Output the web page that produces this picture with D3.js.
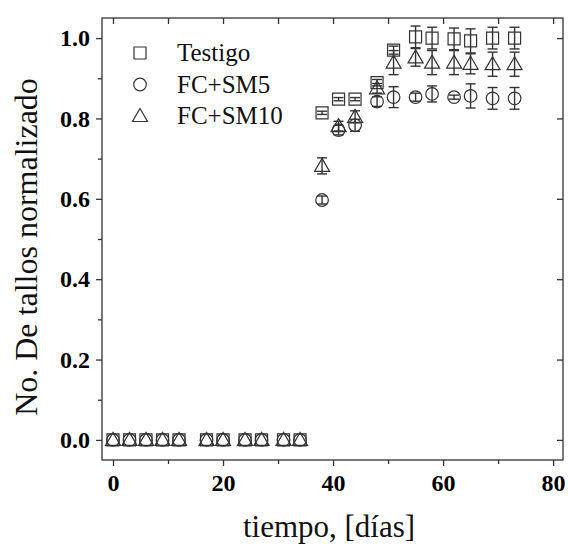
<!DOCTYPE html>
<html><head><meta charset="utf-8">
<script src="https://cdn.jsdelivr.net/npm/d3@7"></script>
<style>body{margin:0;background:#fff}svg{display:block}</style>
</head><body>
<svg id="c" width="568" height="544"></svg>
<script>
const days = [0,3,6,9,12,17,20,24,27,31,34,38,41,44,48,51,55,58,62,65,69,73];
const zeros = [0,0,0,0,0,0,0,0,0,0,0];
const testigo = zeros.concat([0.814,0.848,0.848,0.889,0.970,1.003,1.000,0.998,0.993,1.000,1.000]);
const testigoErr = zeros.concat([0.004,0.004,0.004,0.008,0.010,0.027,0.027,0.027,0.030,0.027,0.027]);
const fcsm5 = zeros.concat([0.597,0.771,0.783,0.842,0.853,0.853,0.861,0.853,0.856,0.850,0.850]);
const fcsm5Err = zeros.concat([0.010,0.012,0.015,0.012,0.026,0.010,0.020,0.005,0.030,0.027,0.027]);
const fcsm10 = zeros.concat([0.682,0.781,0.804,0.875,0.939,0.952,0.939,0.939,0.936,0.935,0.935]);
const fcsm10Err = zeros.concat([0.020,0.012,0.015,0.012,0.030,0.022,0.030,0.030,0.025,0.030,0.030]);
const seriesNames = ["Testigo","FC+SM5","FC+SM10"];
const seriesShapes = ["square","circle","triangle"];
const xTicks = [0,20,40,60,80];
const xMinor = [10,30,50,70];
const yTicks = [0,0.2,0.4,0.6,0.8,1.0];
const yMinor = [0.1,0.3,0.5,0.7,0.9];

const L=102,R=563,T=18,B=460;
const FONT = "'Liberation Serif','Times New Roman',Times,serif";
const svg = d3.select("#c");
const x = d3.scaleLinear().domain([-2,81.8]).range([L,R]);
const y = d3.scaleLinear().domain([-0.05,1.05]).range([B,T]);
const ink = "#333";

function shapePath(s){
  if(s==="square") return "M-6,-6H6V6H-6Z";
  if(s==="circle"){const p=d3.path();p.arc(0,0,6.3,0,2*Math.PI);return p.toString();}
  return "M0,-7.5L7.5,5.5L-7.5,5.5Z";
}

// axes
svg.append("g").attr("transform",`translate(0,${B})`)
  .call(d3.axisBottom(x).tickValues(xTicks).tickFormat(d3.format("d")).tickSize(6).tickPadding(8));
svg.append("g").attr("transform",`translate(0,${B})`)
  .call(d3.axisBottom(x).tickValues(xMinor).tickFormat("").tickSize(4));
svg.append("g").attr("transform",`translate(${L},0)`)
  .call(d3.axisLeft(y).tickValues(yTicks).tickFormat(d3.format(".1f")).tickSize(6).tickPadding(6));
svg.append("g").attr("transform",`translate(${L},0)`)
  .call(d3.axisLeft(y).tickValues(yMinor).tickFormat("").tickSize(4));
svg.append("g").attr("transform",`translate(0,${T})`)
  .call(d3.axisTop(x).tickValues(xTicks.concat(xMinor)).tickFormat("").tickSize(-6));
svg.append("g").attr("transform",`translate(${R},0)`)
  .call(d3.axisRight(y).tickValues(yTicks).tickFormat("").tickSize(-6));
svg.selectAll(".tick line").attr("stroke",ink).attr("stroke-width",1.3);
svg.selectAll(".tick text").attr("fill","#000")
  .style("font-family",FONT).style("font-weight","bold").style("font-size","24px");
svg.selectAll("path.domain").remove();
svg.append("rect").attr("x",L).attr("y",T).attr("width",R-L).attr("height",B-T)
  .attr("fill","none").attr("stroke",ink).attr("stroke-width",1.3);

// data
const series = [
  {vals:testigo, err:testigoErr},
  {vals:fcsm5, err:fcsm5Err},
  {vals:fcsm10, err:fcsm10Err}
];
series.forEach((s,i)=>{
  const g = svg.append("g");
  const pts = days.map((d,j)=>({d, v:s.vals[j], e:s.err[j]}));
  const eb = g.selectAll("g.eb").data(pts.filter(p=>p.e>0)).join("g");
  eb.append("line").attr("x1",p=>x(p.d)).attr("x2",p=>x(p.d))
    .attr("y1",p=>y(p.v-p.e)).attr("y2",p=>y(p.v+p.e));
  eb.append("line").attr("x1",p=>x(p.d)-5).attr("x2",p=>x(p.d)+5)
    .attr("y1",p=>y(p.v-p.e)).attr("y2",p=>y(p.v-p.e));
  eb.append("line").attr("x1",p=>x(p.d)-5).attr("x2",p=>x(p.d)+5)
    .attr("y1",p=>y(p.v+p.e)).attr("y2",p=>y(p.v+p.e));
  eb.selectAll("line").attr("stroke",ink).attr("stroke-width",1.4);
  g.selectAll("path.m").data(pts).join("path").attr("class","m")
    .attr("d",shapePath(seriesShapes[i]))
    .attr("transform",p=>`translate(${x(p.d)},${y(p.v)})`)
    .attr("fill","none").attr("stroke",ink).attr("stroke-width",1.2);
});

// legend
const lg = svg.append("g");
seriesNames.forEach((n,i)=>{
  const yy = 53 + i*31.5;
  lg.append("path").attr("d",shapePath(seriesShapes[i]))
    .attr("transform",`translate(140,${yy})`).attr("fill","none").attr("stroke",ink).attr("stroke-width",1.2);
  lg.append("text").attr("x",177).attr("y",yy+8).text(n)
    .style("font-family",FONT).style("font-size","25px").attr("fill","#111");
});

// titles
svg.append("text").attr("x",329).attr("y",537).attr("text-anchor","middle").text("tiempo, [días]")
  .style("font-family",FONT).style("font-size","31px").attr("fill","#111");
svg.append("text").attr("transform","translate(37,247) rotate(-90)").attr("text-anchor","middle")
  .text("No. De tallos normalizado")
  .style("font-family",FONT).style("font-size","32px").attr("fill","#111");
</script>
</body></html>
